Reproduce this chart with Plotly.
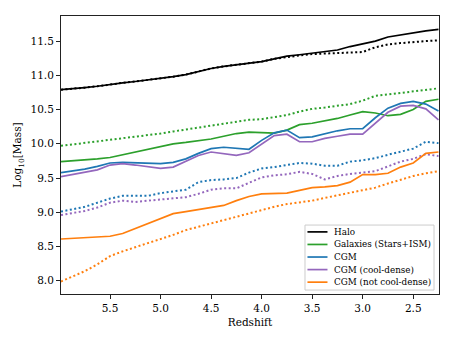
"""
Mass budget vs redshift: halo, galaxies and CGM components.
Solid = one model, dotted = the comparison run.
"""

import plotly.graph_objects as go

# ─── Data ────────────────────────────────────────────────────────────

redshift = [5.985, 5.875, 5.75, 5.625, 5.5, 5.375, 5.25, 5.125, 5.0, 4.875,
            4.75, 4.625, 4.5, 4.375, 4.25, 4.125, 4.0, 3.875, 3.75, 3.625,
            3.5, 3.375, 3.25, 3.125, 3.0, 2.875, 2.75, 2.625, 2.5, 2.375, 2.25]

halo = [10.79, 10.80, 10.82, 10.84, 10.87, 10.89, 10.91, 10.93, 10.96, 10.98,
        11.01, 11.06, 11.10, 11.13, 11.15, 11.18, 11.20, 11.24, 11.28, 11.30,
        11.32, 11.34, 11.37, 11.42, 11.46, 11.50, 11.56, 11.59, 11.63, 11.65, 11.67]
halo_dot = [10.79, 10.80, 10.82, 10.84, 10.87, 10.89, 10.91, 10.93, 10.96, 10.98,
            11.01, 11.06, 11.10, 11.13, 11.15, 11.18, 11.20, 11.24, 11.27, 11.29,
            11.31, 11.32, 11.33, 11.33, 11.34, 11.41, 11.45, 11.47, 11.49, 11.50, 11.51]

galaxies = [9.74, 9.75, 9.77, 9.78, 9.80, 9.84, 9.88, 9.92, 9.97, 10.00,
            10.02, 10.04, 10.07, 10.11, 10.15, 10.17, 10.16, 10.155, 10.20, 10.28,
            10.30, 10.33, 10.37, 10.42, 10.47, 10.45, 10.41, 10.43, 10.50, 10.62, 10.65]
galaxies_dot = [9.97, 9.99, 10.01, 10.03, 10.06, 10.08, 10.10, 10.13, 10.15, 10.18,
                10.21, 10.23, 10.26, 10.29, 10.32, 10.35, 10.36, 10.39, 10.42, 10.47,
                10.51, 10.53, 10.55, 10.58, 10.63, 10.70, 10.72, 10.74, 10.76, 10.78, 10.81]

cgm = [9.58, 9.60, 9.63, 9.67, 9.72, 9.73, 9.72, 9.71, 9.71, 9.73,
       9.78, 9.86, 9.93, 9.95, 9.93, 9.92, 10.05, 10.16, 10.20, 10.09,
       10.10, 10.15, 10.19, 10.22, 10.22, 10.38, 10.52, 10.59, 10.62, 10.58, 10.48]
cgm_dot = [9.01, 9.04, 9.08, 9.14, 9.20, 9.24, 9.24, 9.24, 9.28, 9.30,
           9.33, 9.44, 9.47, 9.48, 9.50, 9.58, 9.64, 9.66, 9.69, 9.72,
           9.71, 9.68, 9.68, 9.74, 9.76, 9.79, 9.84, 9.89, 9.93, 10.03, 10.01]

cgm_cool = [9.52, 9.55, 9.58, 9.62, 9.69, 9.71, 9.69, 9.66, 9.64, 9.66,
            9.74, 9.83, 9.88, 9.86, 9.83, 9.87, 10.00, 10.12, 10.14, 10.03,
            10.03, 10.08, 10.11, 10.14, 10.14, 10.30, 10.46, 10.55, 10.56, 10.51, 10.35]
cgm_cool_dot = [8.96, 8.99, 9.02, 9.07, 9.14, 9.17, 9.15, 9.17, 9.19, 9.21,
                9.22, 9.27, 9.33, 9.35, 9.35, 9.43, 9.51, 9.54, 9.555, 9.59,
                9.56, 9.48, 9.53, 9.56, 9.58, 9.60, 9.67, 9.74, 9.78, 9.85, 9.82]

cgm_warm = [8.61, 8.62, 8.63, 8.64, 8.65, 8.69, 8.76, 8.84, 8.91, 8.98,
            9.01, 9.04, 9.07, 9.10, 9.17, 9.23, 9.27, 9.28, 9.28, 9.32,
            9.36, 9.37, 9.39, 9.44, 9.55, 9.55, 9.57, 9.66, 9.72, 9.86, 9.88]
cgm_warm_dot = [7.99, 8.06, 8.14, 8.24, 8.36, 8.43, 8.49, 8.54, 8.60, 8.67,
                8.74, 8.79, 8.84, 8.88, 8.93, 8.98, 9.03, 9.08, 9.12, 9.14,
                9.17, 9.21, 9.25, 9.28, 9.32, 9.36, 9.42, 9.48, 9.53, 9.57, 9.60]

SERIES = [
    ("Halo", "#000000", halo, halo_dot),
    ("Galaxies (Stars+ISM)", "#2ca02c", galaxies, galaxies_dot),
    ("CGM", "#1f77b4", cgm, cgm_dot),
    ("CGM (cool-dense)", "#9467bd", cgm_cool, cgm_cool_dot),
    ("CGM (not cool-dense)", "#ff7f0e", cgm_warm, cgm_warm_dot),
]

FONT = "DejaVu Serif"

# ─── Figure ──────────────────────────────────────────────────────────

fig = go.Figure()

# dotted runs first so the solid lines sit on top
for name, color, solid, dotted in SERIES:
    fig.add_trace(
        go.Scatter(
            x=redshift, y=dotted, mode="lines", showlegend=False,
            line=dict(color=color, width=2, dash="2px,2.5px"),
        )
    )

for name, color, solid, dotted in SERIES:
    fig.add_trace(
        go.Scatter(
            x=redshift, y=solid, mode="lines", name=name, showlegend=False,
            line=dict(color=color, width=1.7),
        )
    )

# Compact matplotlib-style legend (plotly's own legend rows are too tall)
LEG_X0, LEG_X1 = 0.6455, 0.9868
LEG_Y0, LEG_Y1 = 0.0142, 0.248
ROW_TOP, ROW_STEP = 0.2234, 0.0452

fig.add_shape(
    type="rect", xref="paper", yref="paper",
    x0=LEG_X0, x1=LEG_X1, y0=LEG_Y0, y1=LEG_Y1,
    line=dict(color="#cccccc", width=1), fillcolor="rgba(255,255,255,0.8)",
    layer="above",
)
for i, (name, color, _, _) in enumerate(SERIES):
    row_y = ROW_TOP - i * ROW_STEP
    fig.add_shape(
        type="line", xref="paper", yref="paper",
        x0=0.652, x1=0.705, y0=row_y, y1=row_y,
        line=dict(color=color, width=1.7), layer="above",
    )
    fig.add_annotation(
        text=name, xref="paper", yref="paper", x=0.716, y=row_y,
        xanchor="left", yanchor="middle", showarrow=False,
        font=dict(family=FONT, size=8.8, color="#000000"),
    )

axis_style = dict(
    showline=True, mirror=True, linecolor="#222222", linewidth=1,
    ticks="outside", ticklen=4, tickwidth=1, tickcolor="#222222",
    showgrid=False, zeroline=False,
    tickfont=dict(family=FONT, size=10.5, color="#000000"),
)

fig.update_xaxes(
    range=[5.985, 2.245], tickvals=[5.5, 5.0, 4.5, 4.0, 3.5, 3.0, 2.5],
    ticktext=["5.5", "5.0", "4.5", "4.0", "3.5", "3.0", "2.5"],
    title=dict(text="Redshift", font=dict(family=FONT, size=10.5), standoff=6),
    **axis_style,
)
fig.update_yaxes(
    range=[7.807, 11.866], tickvals=[8.0, 8.5, 9.0, 9.5, 10.0, 10.5, 11.0, 11.5],
    ticktext=["8.0", "8.5", "9.0", "9.5", "10.0", "10.5", "11.0", "11.5"],
    title=dict(text="Log<sub>10</sub>[Mass]", font=dict(family=FONT, size=10.5), standoff=6),
    **axis_style,
)

fig.update_layout(
    width=470, height=339,
    paper_bgcolor="white", plot_bgcolor="white",
    font=dict(family=FONT, color="#000000"),
    margin=dict(l=61, r=31, t=16, b=41),
    showlegend=False,
)

# drop the default 8px body margin so the figure sits at the window origin
fig.write_html(
    "out.html",
    config={"displayModeBar": False},
    post_script="document.body.style.margin='0';",
)
